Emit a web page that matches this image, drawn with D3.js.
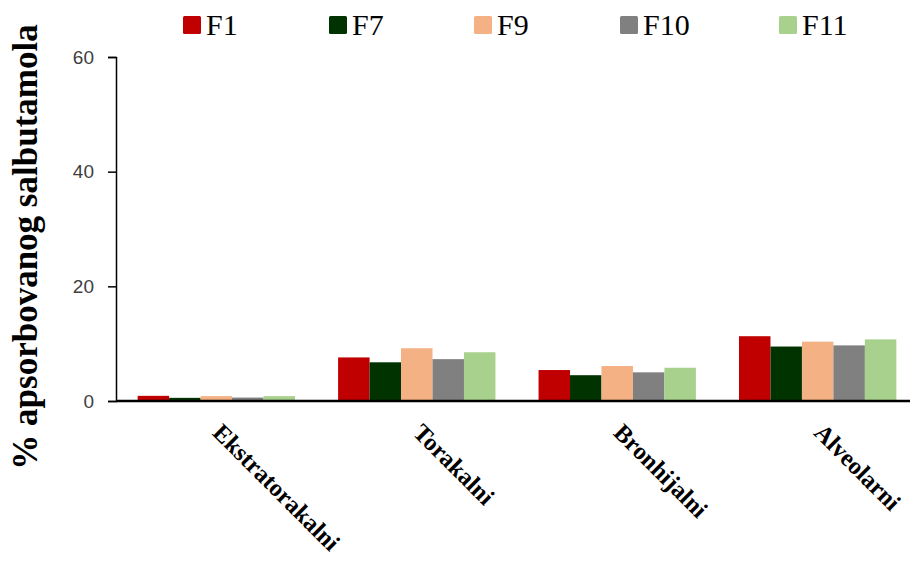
<!DOCTYPE html>
<html><head><meta charset="utf-8">
<script src="https://cdn.jsdelivr.net/npm/d3@7/dist/d3.min.js"></script>
<style>body{margin:0;background:#fff}svg{display:block}</style>
</head><body>
<svg id="chart" width="911" height="563"></svg>
<script>
const categories = ["Ekstratorakalni", "Torakalni", "Bronhijalni", "Alveolarni"];
const seriesNames = ["F1", "F7", "F9", "F10", "F11"];
const F1  = [0.9, 7.6, 5.4, 11.3];
const F7  = [0.55, 6.75, 4.5, 9.5];
const F9  = [0.85, 9.2, 6.1, 10.35];
const F10 = [0.6, 7.3, 5.0, 9.7];
const F11 = [0.85, 8.5, 5.8, 10.75];
const yTicks = [0, 20, 40, 60];
const colors = ["#C00000", "#003300", "#F4B183", "#808080", "#A9D18E"];
const seriesValues = [F1, F7, F9, F10, F11];

const serif = "'Liberation Serif', 'Times New Roman', serif";
const svg = d3.select("#chart");
const m = {left: 116, right: -7, top: 57, bottom: 162};
const W = 911, H = 563;
const x0 = d3.scaleBand().domain(categories).range([m.left, W - m.right]).paddingInner(0.215).paddingOuter(0.108);
const x1 = d3.scaleBand().domain(seriesNames).range([0, x0.bandwidth()]);
const y = d3.scaleLinear().domain([0, 60]).range([H - m.bottom, m.top]);

const data = categories.map((c, i) => ({cat: c, vals: seriesNames.map((s, j) => ({s, v: seriesValues[j][i], color: colors[j]}))}));

const g = svg.append("g");
g.selectAll("g.grp").data(data).join("g").attr("class", "grp")
  .attr("transform", d => `translate(${x0(d.cat)},0)`)
  .selectAll("rect").data(d => d.vals).join("rect")
  .attr("x", d => x1(d.s)).attr("width", x1.bandwidth())
  .attr("y", d => y(d.v)).attr("height", d => y(0) - y(d.v))
  .attr("fill", d => d.color);

// y axis
const yAxis = d3.axisLeft(y).tickValues(yTicks).tickSize(8).tickPadding(14);
const ya = svg.append("g").attr("transform", `translate(${m.left},0)`).call(yAxis);
ya.select(".domain").attr("stroke", "#000").attr("stroke-width", 1.5);
ya.selectAll(".tick line").attr("stroke", "#000").attr("stroke-width", 1.5);
ya.selectAll(".tick text").attr("font-family", "'Liberation Sans', Arial, sans-serif").attr("font-size", 19).attr("fill", "#404040");

// x axis line
svg.append("line").attr("x1", m.left).attr("x2", 910).attr("y1", y(0)).attr("y2", y(0))
  .attr("stroke", "#000").attr("stroke-width", 2.5);

// x labels
svg.append("g").selectAll("text").data(categories).join("text")
  .attr("transform", d => `translate(${x0(d) + x0.bandwidth()/2 - 5},${y(0) + 33}) rotate(45)`)
  .attr("text-anchor", "start")
  .attr("font-family", serif)
  .attr("font-weight", "bold").attr("font-size", 24.5).attr("fill", "#000")
  .text(d => d);

// y label
svg.append("text")
  .attr("transform", `translate(37,247) rotate(-90)`)
  .attr("text-anchor", "middle")
  .attr("font-family", serif)
  .attr("font-weight", "bold").attr("font-size", 35).attr("fill", "#000")
  .text("% apsorbovanog salbutamola");

// legend
const legX = [183, 329, 474, 620, 779];
const leg = svg.append("g").selectAll("g").data(seriesNames).join("g")
  .attr("transform", (d, i) => `translate(${legX[i]},0)`);
leg.append("rect").attr("x", 0).attr("y", 16).attr("width", 18).attr("height", 18).attr("rx", 1.5)
  .attr("fill", (d, i) => colors[i]);
leg.append("text").attr("x", 23).attr("y", 35)
  .attr("font-family", serif)
  .attr("font-size", 30).attr("fill", "#000").text(d => d);
</script>
</body></html>
